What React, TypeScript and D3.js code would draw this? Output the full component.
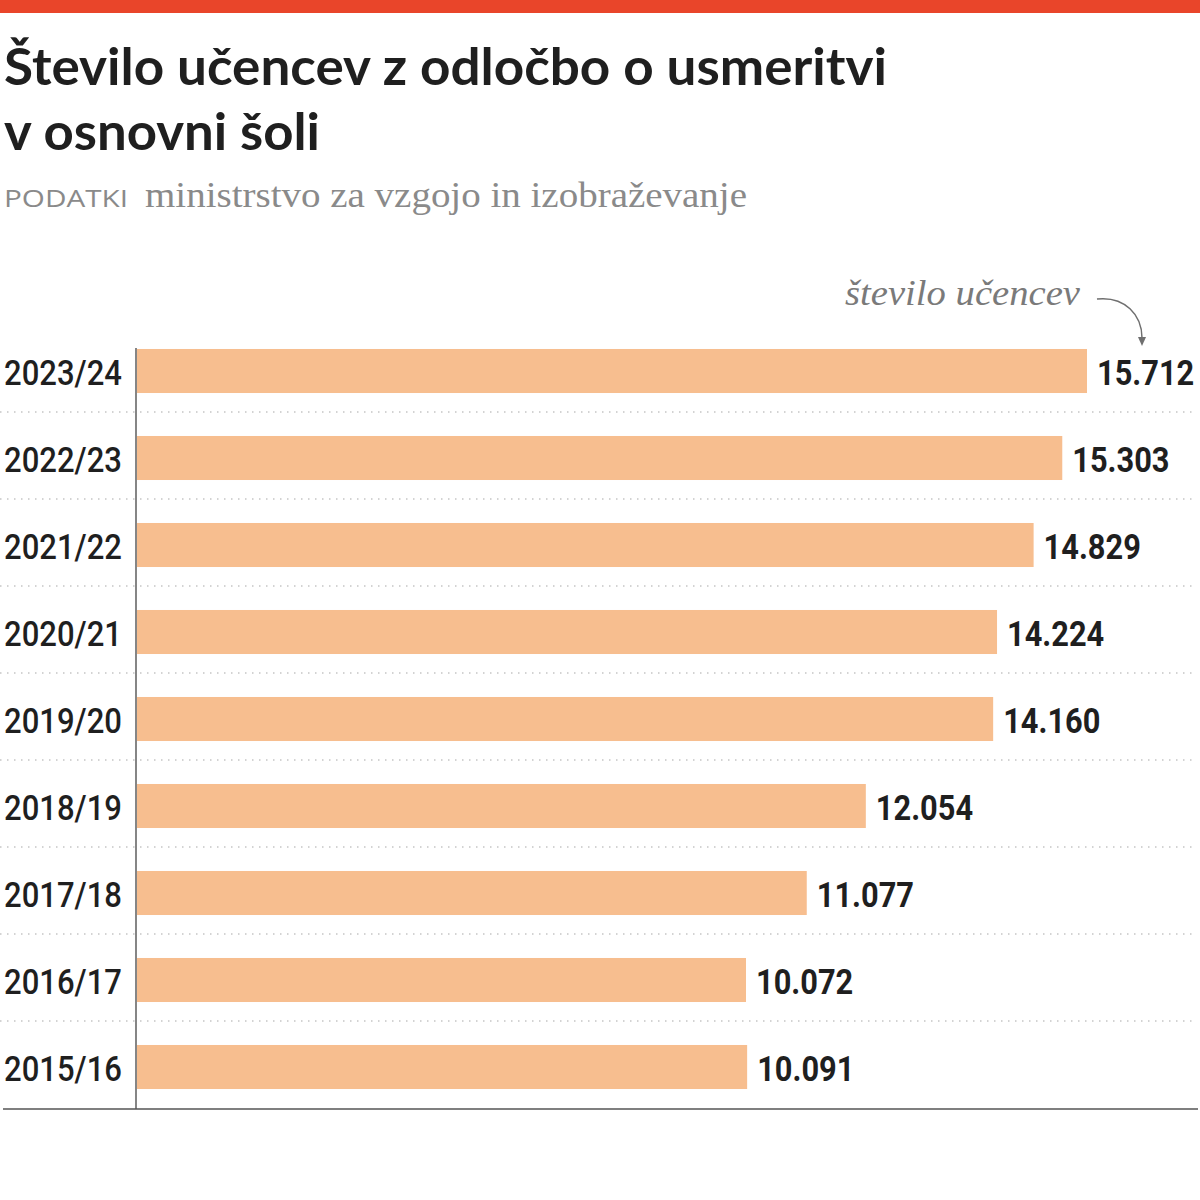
import React from "react";
import * as d3 from "d3";

const years = ["2023/24", "2022/23", "2021/22", "2020/21", "2019/20", "2018/19", "2017/18", "2016/17", "2015/16"];
const values = [15712, 15303, 14829, 14224, 14160, 12054, 11077, 10072, 10091];
const titleLines = ["Število učencev z odločbo o usmeritvi", "v osnovni šoli"];
const sourceLabel = "PODATKI";
const sourceText = "ministrstvo za vzgojo in izobraževanje";
const annotation = "število učencev";

const W = 1200;
const H = 1200;

const fmt = (v: number) => d3.format(",")(v).replace(/,/g, ".");

export default function App() {
  const x = d3.scaleLinear().domain([0, d3.max(values) as number]).range([137, 1087]);
  const y = d3.scaleBand<string>().domain(years).range([327.5, 1110.5]).paddingInner(0.494).paddingOuter(0.247);
  const bh = y.bandwidth();
  const sans = "Roboto, 'Open Sans', 'Liberation Sans', sans-serif";
  const serif = "'Liberation Serif', 'DejaVu Serif', serif";
  const arrow = d3.path();
  arrow.moveTo(1097, 299);
  arrow.bezierCurveTo(1125, 296, 1142, 315, 1142, 338);

  return (
    <svg width={W} height={H} style={{ position: "absolute", left: 0, top: 0, background: "#fff" }}>
      <rect x={0} y={0} width={W} height={13} fill="#E9452A" />
      <g fontFamily={"Lato, 'Open Sans', sans-serif"} fontWeight={700} fill="#1f1f1f" fontSize={51}>
        <text x={4} y={85} textLength={883} lengthAdjust="spacingAndGlyphs">{titleLines[0]}</text>
        <text x={4} y={150} textLength={316} lengthAdjust="spacingAndGlyphs">{titleLines[1]}</text>
      </g>
      <text x={4} y={207} fontFamily={"'Open Sans', sans-serif"} fontWeight={500} fontSize={24} fill="#8a8a8a" textLength={124} lengthAdjust="spacingAndGlyphs">{sourceLabel}</text>
      <text x={145} y={207} fontFamily={serif} fontSize={35} fill="#8a8a8a" textLength={602} lengthAdjust="spacingAndGlyphs">{sourceText}</text>

      <text x={845} y={305} fontFamily={serif} fontStyle="italic" fontSize={35} fill="#7a7a7a" textLength={235} lengthAdjust="spacingAndGlyphs">{annotation}</text>
      <path d={arrow.toString()} fill="none" stroke="#6f6f6f" strokeWidth={1.5} />
      <path d="M1138,337 L1146,337 L1142,346 Z" fill="#6f6f6f" />

      {years.slice(0, -1).map((yr) => (
        <line key={"sep" + yr} x1={0} x2={1196} y1={(y(yr) as number) + bh + 19} y2={(y(yr) as number) + bh + 19} stroke="#a8a8a8" strokeWidth={1.2} strokeDasharray="1.5,5.5" />
      ))}

      {years.map((yr, i) => (
        <g key={yr}>
          <rect x={x(0)} y={y(yr)} width={x(values[i]) - x(0)} height={bh} fill="#F7BE8F" />
          <text x={4} y={(y(yr) as number) + bh / 2 + 14} fontFamily={sans} fontWeight={500} fontSize={35} fill="#1f1f1f" textLength={118} lengthAdjust="spacingAndGlyphs">{yr}</text>
          <text
            transform={`translate(${x(values[i]) + 10},${(y(yr) as number) + bh / 2 + 14}) scale(0.88,1)`}
            fontFamily={sans}
            fontWeight={700}
            fontSize={35}
            fill="#1f1f1f"
          >
            {fmt(values[i])}
          </text>
        </g>
      ))}

      <line x1={136} x2={136} y1={348} y2={1109} stroke="#444" strokeWidth={1.3} />
      <line x1={3} x2={1198} y1={1109} y2={1109} stroke="#555" strokeWidth={1.3} />
    </svg>
  );
}
